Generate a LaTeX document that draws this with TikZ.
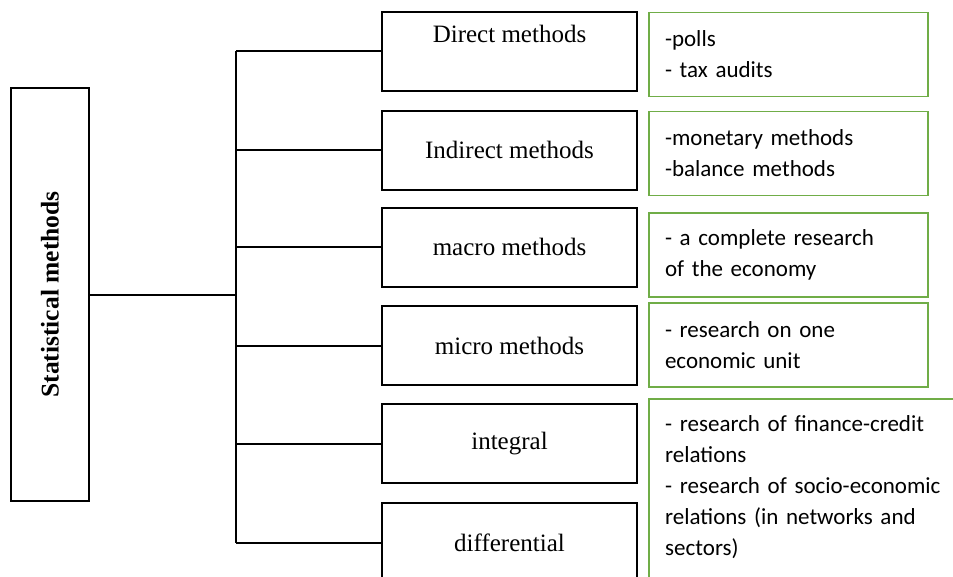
\documentclass[tikz,border=0pt]{standalone}
\usepackage{fontspec}
\setmainfont{Liberation Serif}
\newfontfamily\calib{Carlito}
\definecolor{boxgreen}{RGB}{112,173,71}
\begin{document}
\begin{tikzpicture}[x=1pt,y=-1pt,
  blackbox/.style={draw=black,line width=2pt,minimum width=255pt,minimum height=79pt,inner sep=0pt,
    font=\fontsize{25}{30}\selectfont},
  blacklabel/.style={font=\fontsize{25}{30}\selectfont,inner sep=0pt},
  greenbox/.style={draw=boxgreen,line width=1.8pt,minimum width=279pt,minimum height=84pt,
    inner xsep=16pt,inner ysep=0pt,text width=247pt,align=left,
    font=\calib\fontsize{23}{31}\selectfont},
  conn/.style={line width=2pt}]
\useasboundingbox (0,0) rectangle (953,576);
\clip (0,0) rectangle (953,576);
\fill[white] (0,0) rectangle (953,576);

% root
\node[draw=black,line width=2pt,minimum width=78pt,minimum height=413pt,inner sep=0pt] (stat) at (50,294.5) {};
\node[rotate=90,font=\bfseries\fontsize{25.5}{30}\selectfont] (statlbl) at (stat.center) {Statistical methods};

% method boxes
\node[blackbox] (d1) at (509.5,51) {};
\node[blacklabel] (d1l) at (509.5,34) {Direct methods};
\node[blackbox] (d2) at (509.5,150) {Indirect methods};
\node[blackbox] (d3) at (509.5,247) {macro methods};
\node[blackbox] (d4) at (509.5,345.5) {micro methods};
\node[blackbox] (d5) at (509.5,443.5) {integral};
\node[blackbox] (d6) at (509.5,542.5) {differential};

% green boxes
\node[greenbox] (g1) at (788.5,54.5) {-polls\\- tax audits};
\node[greenbox] (g2) at (788.5,153.5) {-monetary methods\\-balance methods};
\node[greenbox] (g3) at (788.5,255) {- a complete research\\of the economy};
\node[greenbox] (g4) at (788.5,345) {- research on one\\economic unit};
\draw[draw=boxgreen,line width=1.8pt] (649,399) rectangle (975,600);
\node[anchor=north west,inner sep=0pt,text width=300pt,align=left,
  font=\calib\fontsize{23}{31}\selectfont] (g5) at (665,415)
  {- research of finance-credit\\relations\\- research of socio-economic\\relations (in networks and\\sectors)};

% connectors
\coordinate (btop) at (236,51);
\coordinate (bbot) at (236,542.5);
\coordinate (bmid) at (236,295);
\draw[conn] (btop) -- (bbot);
\draw[conn] (bmid -| stat.east) -- (bmid);
\draw[conn] (btop) -- (d1.west);
\draw[conn] (d2.west -| btop) -- (d2.west);
\draw[conn] (d3.west -| btop) -- (d3.west);
\draw[conn] (d4.west -| btop) -- (d4.west);
\draw[conn] (d5.west -| btop) -- (d5.west);
\draw[conn] (bbot) -- (d6.west);
\end{tikzpicture}
\end{document}
